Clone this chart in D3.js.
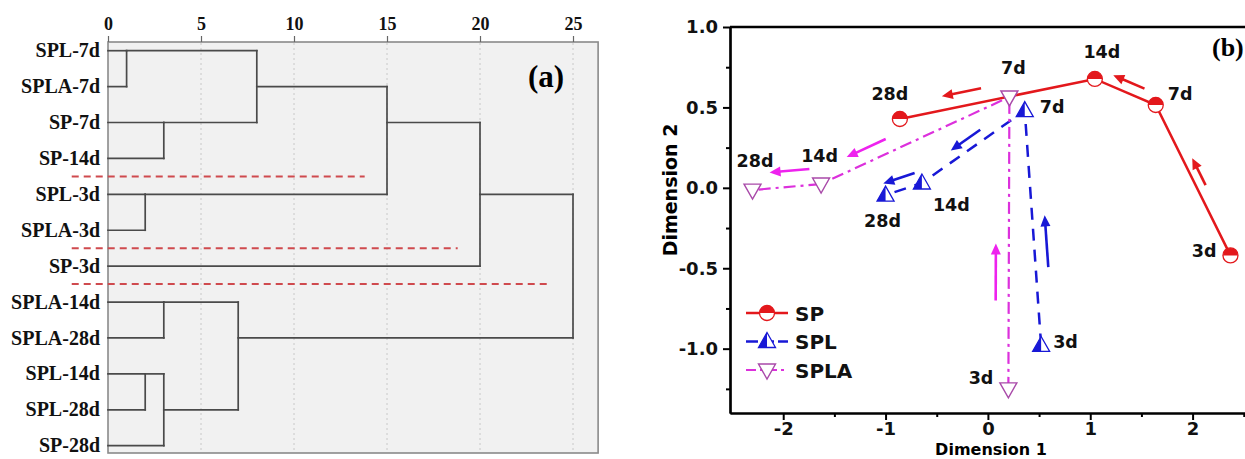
<!DOCTYPE html>
<html lang="en">
<head>
<meta charset="UTF-8">
<title>cluster and MDS</title>
<script src="https://d3js.org/d3.v7.min.js"></script>
<style>
  body { margin: 0; background: #fff; }
  .serif { font-family: "Liberation Serif", "DejaVu Serif", serif; font-weight: bold; }
  .sans { font-family: "DejaVu Sans", "Liberation Sans", sans-serif; font-weight: bold; }
</style>
</head>
<body>
<div id="chart"></div>
<script>
// ---------- panel (a): dendrogram ----------
var leaves = ["SPL-7d", "SPLA-7d", "SP-7d", "SP-14d", "SPL-3d", "SPLA-3d", "SP-3d",
              "SPLA-14d", "SPLA-28d", "SPL-14d", "SPL-28d", "SP-28d"];
// [node a, node b, distance]; new clusters are numbered after the leaves
var merges = [[0, 1, 1], [4, 5, 2], [9, 10, 2], [2, 3, 3], [7, 8, 3], [14, 11, 3],
              [12, 15, 8], [16, 17, 7], [18, 13, 15], [20, 6, 20], [21, 19, 25]];
var distTicks = [0, 5, 10, 15, 20, 25];
var cutAfterRow = [3, 5, 6];
var cutLength = [13.8, 18.8, 23.8];

// ---------- panel (b): MDS trajectories ----------
var days = ["3d", "7d", "14d", "28d"];
var spX = [2.37, 1.64, 1.045, -0.86];
var spY = [-0.42, 0.515, 0.677, 0.428];
var splX = [0.52, 0.36, -0.645, -1.0];
var splY = [-0.98, 0.48, 0.03, -0.045];
var splaX = [0.2, 0.21, -1.63, -2.3];
var splaY = [-1.25, 0.565, 0.024, -0.014];
var dim2Ticks = [-1.0, -0.5, 0.0, 0.5, 1.0];
var dim2Minor = [-1.25, -0.75, -0.25, 0.25, 0.75];
var dim1Ticks = [-2, -1, 0, 1, 2];
var dim1Minor = [-1.5, -0.5, 0.5, 1.5, 2.5];

var svg = d3.select("#chart").append("svg")
    .attr("width", 1245)
    .attr("height", 459);

// ================= (a) =================
var xa = d3.scaleLinear().domain([0, 25]).range([108, 573]);
var ya = d3.scaleLinear().domain([0, leaves.length - 1]).range([50.7, 445.7]);
var pa = svg.append("g");

// grey plot box
pa.append("rect")
    .attr("x", xa(0)).attr("y", 42)
    .attr("width", xa(26.35) - xa(0)).attr("height", 411)
    .attr("fill", "#f1f1f1")
    .attr("stroke", "#8a8a8a")
    .attr("stroke-width", 1.6);

// dotted vertical grid
pa.selectAll(".grid").data(distTicks.slice(1)).enter().append("line")
    .attr("x1", function(d) { return xa(d); })
    .attr("x2", function(d) { return xa(d); })
    .attr("y1", 43).attr("y2", 452)
    .attr("stroke", "#cfcfcf")
    .attr("stroke-width", 1.2)
    .attr("stroke-dasharray", "2,3");

// top axis
var axA = pa.append("g")
    .attr("transform", "translate(0,42)")
    .call(d3.axisTop(xa).tickValues(distTicks).tickSize(6).tickSizeOuter(0));
axA.select(".domain").remove();
axA.selectAll(".tick line").attr("stroke", "#666").attr("stroke-width", 1.2);
axA.selectAll(".tick text")
    .attr("class", "serif")
    .attr("font-size", 18)
    .attr("fill", "#111")
    .attr("y", -12);

// dendrogram branches
var nodeRow = leaves.map(function(d, i) { return i; });
var nodeH = leaves.map(function() { return 0; });
var segs = [];
merges.forEach(function(m) {
  var a = m[0], b = m[1], h = m[2];
  segs.push([nodeH[a], nodeRow[a], h, nodeRow[a]]);
  segs.push([nodeH[b], nodeRow[b], h, nodeRow[b]]);
  segs.push([h, nodeRow[a], h, nodeRow[b]]);
  nodeRow.push(Math.floor((nodeRow[a] + nodeRow[b]) / 2));
  nodeH.push(h);
});
pa.selectAll(".branch").data(segs).enter().append("line")
    .attr("x1", function(d) { return xa(d[0]); })
    .attr("y1", function(d) { return ya(d[1]); })
    .attr("x2", function(d) { return xa(d[2]); })
    .attr("y2", function(d) { return ya(d[3]); })
    .attr("stroke", "#4a4a4a")
    .attr("stroke-width", 1.7)
    .attr("stroke-linecap", "square");

// red cut lines
pa.selectAll(".cut").data(cutAfterRow).enter().append("line")
    .attr("x1", xa(-1.95))
    .attr("x2", function(d, i) { return xa(cutLength[i]); })
    .attr("y1", function(d) { return (ya(d) + ya(d + 1)) / 2; })
    .attr("y2", function(d) { return (ya(d) + ya(d + 1)) / 2; })
    .attr("stroke", "#cf4a4e")
    .attr("stroke-width", 2)
    .attr("stroke-dasharray", "7,5");

// row labels
pa.selectAll(".rowlab").data(leaves).enter().append("text")
    .attr("class", "serif")
    .attr("x", 100)
    .attr("y", function(d, i) { return ya(i); })
    .attr("dy", "0.33em")
    .attr("text-anchor", "end")
    .attr("font-size", 20)
    .attr("fill", "#111")
    .text(function(d) { return d; });

pa.append("text")
    .attr("class", "serif")
    .attr("x", 546).attr("y", 87)
    .attr("text-anchor", "middle")
    .attr("font-size", 31)
    .text("(a)");

// ================= (b) =================
var xb = d3.scaleLinear().domain([-2.52, 2.6]).range([730, 1254]);
var yb = d3.scaleLinear().domain([-1.4, 1.0]).range([413, 27]);
var pb = svg.append("g");

function styleAxis(g, size) {
  g.select(".domain").attr("stroke", "#000").attr("stroke-width", 2.2);
  g.selectAll(".tick line").attr("stroke", "#000").attr("stroke-width", 2);
  g.selectAll(".tick text")
      .attr("class", "sans")
      .attr("font-size", size)
      .attr("fill", "#111");
}

// top frame line
pb.append("line")
    .attr("x1", xb.range()[0]).attr("x2", xb.range()[1])
    .attr("y1", yb(1.0)).attr("y2", yb(1.0))
    .attr("stroke", "#000").attr("stroke-width", 2.5);

var gy = pb.append("g").attr("transform", "translate(" + xb.range()[0] + ",0)")
    .call(d3.axisLeft(yb).tickValues(dim2Ticks).tickSize(7).tickSizeOuter(0)
      .tickPadding(5).tickFormat(function(d) { return d.toFixed(1); }));
styleAxis(gy, 18);
var gym = pb.append("g").attr("transform", "translate(" + xb.range()[0] + ",0)")
    .call(d3.axisLeft(yb).tickValues(dim2Minor).tickSize(4).tickSizeOuter(0).tickFormat(""));
styleAxis(gym, 18);

var gx = pb.append("g").attr("transform", "translate(0," + yb.range()[0] + ")")
    .call(d3.axisBottom(xb).tickValues(dim1Ticks).tickSize(7).tickSizeOuter(0)
      .tickPadding(2).tickFormat(function(d) { return String(d); }));
styleAxis(gx, 18);
var gxm = pb.append("g").attr("transform", "translate(0," + yb.range()[0] + ")")
    .call(d3.axisBottom(xb).tickValues(dim1Minor).tickSize(4).tickSizeOuter(0).tickFormat(""));
styleAxis(gxm, 18);

pb.append("text")
    .attr("class", "sans")
    .attr("x", 991).attr("y", 455)
    .attr("text-anchor", "middle")
    .attr("font-size", 16)
    .text("Dimension 1");
pb.append("text")
    .attr("class", "sans")
    .attr("transform", "translate(677,190) rotate(-90)")
    .attr("text-anchor", "middle")
    .attr("font-size", 19)
    .text("Dimension 2");

pb.append("text")
    .attr("class", "serif")
    .attr("x", 1212).attr("y", 56)
    .attr("font-size", 26)
    .text("(b)");

var series = [
  {name: "SP", xs: spX, ys: spY, color: "#e3181c", dash: null, width: 2.5, arrow: "#e3181c"},
  {name: "SPL", xs: splX, ys: splY, color: "#1818d6", dash: "12,9", width: 2.5, arrow: "#1818d6"},
  {name: "SPLA", xs: splaX, ys: splaY, color: "#dc30dc", dash: "12,5,3,5", width: 2.2, arrow: "#ee22ee"}
];
series.forEach(function(s) {
  s.pts = days.map(function(d, i) { return [xb(s.xs[i]), yb(s.ys[i])]; });
});

// label placement relative to the marker (layout only)
var labelOffsets = {
  "SP 3d": [-14, 2, "end"], "SP 7d": [12, -5, "start"], "SP 14d": [7, -21, "middle"], "SP 28d": [-10, -19, "middle"],
  "SPL 3d": [12, 3, "start"], "SPL 7d": [15, 2, "start"], "SPL 14d": [11, 28, "start"], "SPL 28d": [-3, 32, "middle"],
  "SPLA 3d": [-15, -5, "end"], "SPLA 7d": [4, -23, "middle"], "SPLA 14d": [-1.5, -22, "middle"], "SPLA 28d": [2.5, -23, "middle"]
};
// direction arrows: segment index, position along it, side offset, length
var arrowLayout = {
  "SP": [[0, 0.53, 9, 30], [1, 0.51, 10.6, 34], [2, 0.67, 13.8, 40]],
  "SPL": [[0, 0.44, 12.6, 52], [1, 0.52, 10, 36], [2, 0.53, 11.7, 33]],
  "SPLA": [[0, 0.40, -13, 57], [1, 0.73, 13.7, 43], [2, 0.44, 16, 40]]
};

var line = d3.line();
series.forEach(function(s) {
  pb.append("path")
      .attr("d", line(s.pts))
      .attr("fill", "none")
      .attr("stroke", s.color)
      .attr("stroke-width", s.width)
      .attr("stroke-dasharray", s.dash);
});

// arrows
function drawArrow(g, A, B, t, off, len, color) {
  var dx = B[0] - A[0], dy = B[1] - A[1], L = Math.sqrt(dx * dx + dy * dy);
  var ux = dx / L, uy = dy / L, mx = -uy, my = ux;
  var cx = A[0] + t * dx + off * mx, cy = A[1] + t * dy + off * my;
  var sx = cx - ux * len / 2, sy = cy - uy * len / 2;
  var ex = cx + ux * len / 2, ey = cy + uy * len / 2;
  var hl = 11, hw = 5;
  g.append("line")
      .attr("x1", sx).attr("y1", sy)
      .attr("x2", ex - ux * hl * 0.7).attr("y2", ey - uy * hl * 0.7)
      .attr("stroke", color).attr("stroke-width", 2.6);
  g.append("path")
      .attr("d", "M" + ex + "," + ey +
                 "L" + (ex - ux * hl + mx * hw) + "," + (ey - uy * hl + my * hw) +
                 "L" + (ex - ux * hl - mx * hw) + "," + (ey - uy * hl - my * hw) + "Z")
      .attr("fill", color);
}
series.forEach(function(s) {
  arrowLayout[s.name].forEach(function(a) {
    drawArrow(pb, s.pts[a[0]], s.pts[a[0] + 1], a[1], a[2], a[3], s.arrow);
  });
});

// markers
function drawMarker(g, name, x, y, color) {
  var m = g.append("g").attr("transform", "translate(" + x + "," + y + ")");
  if (name === "SP") {
    m.append("circle").attr("r", 7.5).attr("fill", "#fff").attr("stroke", color).attr("stroke-width", 1.3);
    m.append("path").attr("d", "M-7.5,0A7.5,7.5 0 0 1 7.5,0Z").attr("fill", color);
  } else if (name === "SPL") {
    m.append("path").attr("d", "M0,-9L8.5,6L-8.5,6Z").attr("fill", "#fff").attr("stroke", color).attr("stroke-width", 1.3);
    m.append("path").attr("d", "M0,-9L0,6L-8.5,6Z").attr("fill", color);
  } else {
    m.append("path").attr("d", "M-8.5,-6L8.5,-6L0,9Z").attr("fill", "#fff").attr("stroke", "#a94aa9").attr("stroke-width", 1.4);
  }
}
series.forEach(function(s) {
  s.pts.forEach(function(p, i) {
    drawMarker(pb, s.name, p[0], p[1], s.color);
    var o = labelOffsets[s.name + " " + days[i]];
    pb.append("text")
        .attr("class", "sans")
        .attr("x", p[0] + o[0]).attr("y", p[1] + o[1])
        .attr("text-anchor", o[2])
        .attr("font-size", 17.5)
        .attr("fill", "#111")
        .text(days[i]);
  });
});

// legend
var leg = pb.append("g");
series.forEach(function(s, i) {
  var ly = 313 + i * 28.5;
  leg.append("line")
      .attr("x1", 746).attr("x2", 788).attr("y1", ly).attr("y2", ly)
      .attr("stroke", s.color).attr("stroke-width", s.width)
      .attr("stroke-dasharray", s.dash ? (s.name === "SPL" ? "12,4" : "10,4,3,4") : null);
  drawMarker(leg, s.name, 767, ly, s.color);
  leg.append("text")
      .attr("class", "sans")
      .attr("x", 795).attr("y", ly + 7.5)
      .attr("font-size", 20)
      .attr("fill", "#111")
      .text(s.name);
});
</script>
</body>
</html>
